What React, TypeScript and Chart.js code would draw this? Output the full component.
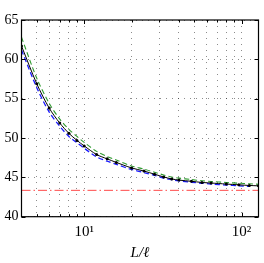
import React, { useEffect, useRef } from "react";
import { Chart, registerables } from "chart.js";

Chart.register(...registerables);

// L/ℓ values
const xValues = [4, 5, 6, 7, 8, 9, 10, 12, 14, 16, 20, 24, 28, 32, 36, 40, 48, 56, 64, 80, 96, 112, 128];
const blackValues = [61.7, 56.9, 53.8, 51.9, 50.6, 49.7, 49.0, 47.9, 47.35, 46.9, 46.2, 45.8, 45.4, 45.05, 44.8, 44.65, 44.5, 44.35, 44.28, 44.15, 44.05, 43.97, 43.92];
const blueX = [4, 5, 6, 7, 8, 9, 10, 12, 14, 16, 20, 24, 28, 32, 36, 40, 48, 56, 64, 80, 96, 112];
const blueValues = [61.2, 56.4, 53.3, 51.5, 50.2, 49.4, 48.7, 47.6, 47.05, 46.65, 46.0, 45.6, 45.25, 44.9, 44.7, 44.55, 44.38, 44.25, 44.15, 44.02, 43.93, 43.85];
const greenValues = [62.8, 57.6, 54.4, 52.4, 51.1, 50.2, 49.45, 48.3, 47.65, 47.2, 46.45, 46.05, 45.65, 45.3, 45.05, 44.9, 44.72, 44.57, 44.48, 44.35, 44.25, 44.18, 44.12];
const redX = [4, 128];
const redLevel = 43.35;

const xTicks = [5, 6, 7, 8, 9, 10, 20, 30, 40, 50, 60, 70, 80, 90, 100];
const xMajor = [10, 100];
const xTickLabels: Record<number, string> = { 10: "10\u00b9", 100: "10\u00b2" };
const yMin = 40;
const yMax = 65;
const yStep = 5;

const SERIF = "'Liberation Serif', 'DejaVu Serif', serif";

const framePlugin = {
  id: "frame",
  afterDraw(chart: any) {
    const { ctx, chartArea: a, scales } = chart;
    ctx.save();
    ctx.strokeStyle = "#000";
    ctx.lineWidth = 1;
    ctx.setLineDash([]);
    ctx.beginPath();
    scales.x.ticks.forEach((t: any) => {
      const px = Math.round(scales.x.getPixelForValue(t.value)) + 0.5;
      const len = xMajor.includes(t.value) ? 4 : 2.5;
      ctx.moveTo(px, a.bottom);
      ctx.lineTo(px, a.bottom - len);
      ctx.moveTo(px, a.top);
      ctx.lineTo(px, a.top + len);
    });
    scales.y.ticks.forEach((t: any) => {
      const py = Math.round(scales.y.getPixelForValue(t.value)) + 0.5;
      ctx.moveTo(a.left, py);
      ctx.lineTo(a.left + 4, py);
      ctx.moveTo(a.right, py);
      ctx.lineTo(a.right - 4, py);
    });
    ctx.stroke();
    ctx.lineWidth = 1.2;
    ctx.strokeRect(a.left, a.top, a.right - a.left, a.bottom - a.top);
    ctx.restore();
  },
};

export default function App() {
  const canvasRef = useRef<HTMLCanvasElement | null>(null);

  useEffect(() => {
    if (!canvasRef.current) return;
    const chart = new Chart(canvasRef.current, {
      type: "line",
      data: {
        datasets: [
          {
            label: "black",
            data: xValues.map((x, i) => ({ x, y: blackValues[i] })),
            borderColor: "#000",
            backgroundColor: "#000",
            borderWidth: 1,
            pointRadius: 1.5,
            pointBorderWidth: 0,
            pointBackgroundColor: "#000",
            tension: 0.3,
          },
          {
            label: "blue",
            data: blueX.map((x, i) => ({ x, y: blueValues[i] })),
            borderColor: "#1a1aff",
            borderWidth: 1.3,
            borderDash: [5, 3],
            pointRadius: 0,
            tension: 0.3,
          },
          {
            label: "green",
            data: xValues.map((x, i) => ({ x, y: greenValues[i] })),
            borderColor: "#2f9a2f",
            borderWidth: 1.1,
            borderDash: [5, 3],
            pointRadius: 0,
            tension: 0.3,
          },
          {
            label: "red",
            data: redX.map((x) => ({ x, y: redLevel })),
            borderColor: "#ff4a4a",
            borderWidth: 1,
            borderDash: [9, 3, 1.5, 3],
            pointRadius: 0,
          },
        ],
      },
      options: {
        animation: false,
        responsive: false,
        devicePixelRatio: 1,
        layout: { padding: { left: 0, top: 20, right: 5.5, bottom: 0 } },
        plugins: { legend: { display: false }, tooltip: { enabled: false } },
        scales: {
          x: {
            type: "logarithmic",
            min: 4,
            max: 128,
            afterBuildTicks: (scale: any) => {
              scale.ticks = xTicks.map((v) => ({ value: v }));
            },
            afterFit: (scale: any) => {
              scale.height = 46.3;
            },
            ticks: {
              autoSkip: false,
              maxRotation: 0,
              padding: 6,
              color: "#000",
              font: { family: SERIF, size: 15 },
              callback: (v: any) => xTickLabels[Number(v)] ?? "",
            },
            grid: { color: "rgba(0,0,0,0.45)", lineWidth: 1, drawTicks: false },
            border: { display: false, dash: [1, 5] },
            title: {
              display: true,
              text: "L/\u2113",
              color: "#000",
              font: { family: SERIF, size: 15, style: "italic" },
              padding: { top: 0, bottom: 1 },
            },
          },
          y: {
            type: "linear",
            min: yMin,
            max: yMax,
            afterFit: (scale: any) => {
              scale.width = 21.5;
            },
            ticks: {
              stepSize: yStep,
              padding: 3,
              color: "#000",
              font: { family: SERIF, size: 14 },
            },
            grid: { color: "rgba(0,0,0,0.45)", lineWidth: 1, drawTicks: false },
            border: { display: false, dash: [1, 5] },
          },
        },
      },
      plugins: [framePlugin],
    });
    return () => chart.destroy();
  }, []);

  return (
    <div style={{ position: "absolute", left: 0, top: 0, width: 264, height: 263, background: "#fff" }}>
      <canvas ref={canvasRef} width={264} height={263} />
    </div>
  );
}
